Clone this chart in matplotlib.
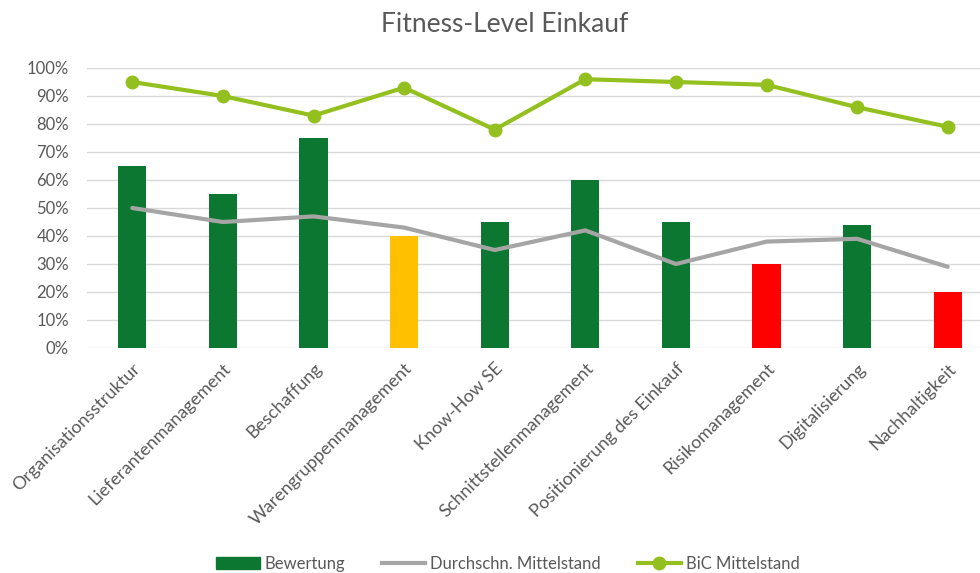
import matplotlib
matplotlib.use("Agg")
import matplotlib.pyplot as plt
from matplotlib.patches import Patch
from matplotlib.lines import Line2D
from matplotlib.ticker import PercentFormatter

categories = ["Organisationsstruktur", "Lieferantenmanagement", "Beschaffung",
              "Warengruppenmanagement", "Know-How SE", "Schnittstellenmanagement",
              "Positionierung des Einkauf", "Risikomanagement", "Digitalisierung",
              "Nachhaltigkeit"]
bewertung = [65, 55, 75, 40, 45, 60, 45, 30, 44, 20]
durchschnitt = [50, 45, 47, 43, 35, 42, 30, 38, 39, 29]
bic = [95, 90, 83, 93, 78, 96, 95, 94, 86, 79]
bar_colors = ["#0C7730", "#0C7730", "#0C7730", "#FFC000", "#0C7730", "#0C7730",
              "#0C7730", "#FF0000", "#0C7730", "#FF0000"]
yticks = [0, 10, 20, 30, 40, 50, 60, 70, 80, 90, 100]

plt.rcParams['font.family'] = ['Lato', 'DejaVu Sans']
txt = "#595959"

fig = plt.figure(figsize=(9.8, 5.73), dpi=100)
W, H = 980, 573
left, right, top, bottom = 87, 993, 68, 348
ax = fig.add_axes([left / W, 1 - bottom / H, (right - left) / W, (bottom - top) / H])

x = list(range(len(categories)))
ax.bar(x, bewertung, width=0.31, color=bar_colors, zorder=2)
ax.plot(x, durchschnitt, color="#A5A5A5", lw=3, zorder=3, solid_capstyle="round")
ax.plot(x, bic, color="#93C01F", lw=3, marker="o", markersize=9, zorder=4)

ax.set_xlim(-0.5, len(categories) - 0.5)
ax.set_ylim(0, 100)
ax.set_yticks(yticks)
ax.yaxis.set_major_formatter(PercentFormatter(decimals=0))
ax.grid(axis="y", color="#D9D9D9", lw=1, zorder=0)
ax.set_axisbelow(True)
for s in ax.spines.values():
    s.set_visible(False)
ax.tick_params(axis="both", length=0, colors=txt, labelsize=12)
ax.tick_params(axis="y", pad=13)
ax.set_xticks(x)
ax.set_xticklabels(categories, rotation=45, ha="right", rotation_mode="anchor",
                   fontsize=13)
ax.tick_params(axis="x", pad=9)

fig.text(505 / W, 1 - 25 / H, "Fitness-Level Einkauf", ha="center", va="center",
         fontsize=19, color=txt)

handles = [Patch(color="#0C7730"),
           Line2D([], [], color="#A5A5A5", lw=3),
           Line2D([], [], color="#93C01F", lw=3, marker="o", markersize=9)]
labels = ["Bewertung", "Durchschn. Mittelstand", "BiC Mittelstand"]
fig.legend(handles, labels, loc="center", bbox_to_anchor=(508 / W, 1 - 564 / H),
           ncol=3, frameon=False, fontsize=12, labelcolor=txt, handlelength=2.6,
           handletextpad=0.3, columnspacing=2.2)

fig.savefig("out.png", dpi=100)
